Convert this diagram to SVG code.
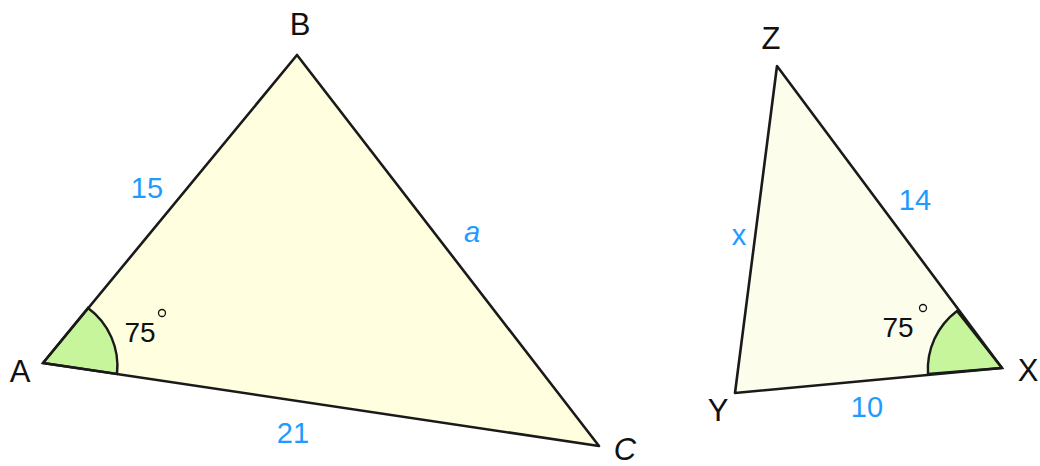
<svg xmlns="http://www.w3.org/2000/svg" width="1040" height="466" viewBox="0 0 1040 466">
<style>
.edge{stroke:#1a1a1a;stroke-width:2.6;stroke-linejoin:round;fill:none}
.lbl{font-family:"Liberation Sans",Arial,sans-serif;font-size:31px;fill:#111;text-anchor:middle;dominant-baseline:central}
.len{font-family:"Liberation Sans",Arial,sans-serif;font-size:29px;fill:#1e9bff;text-anchor:middle;dominant-baseline:central}
.ang{font-family:"Liberation Sans",Arial,sans-serif;font-size:28px;fill:#111;text-anchor:middle;dominant-baseline:central}
.wedge{fill:#c6f59c;stroke:#1a1a1a;stroke-width:2.4}
.deg{fill:none;stroke:#111;stroke-width:1.3}
</style>
<rect width="1040" height="466" fill="#ffffff"/>
<g id="triangle-ABC">
<polygon points="43,363 297,55 599,446" fill="#ffffdf"/>
<path class="wedge" d="M43,363 L88,308 A72,72 0 0 1 117,374 Z"/>
<polygon class="edge" points="43,363 297,55 599,446"/>
</g>
<g id="triangle-XYZ">
<polygon points="777,66 735,393 1002,368" fill="#fdfdeb"/>
<path class="wedge" d="M1002,368 L957,311 A73,73 0 0 0 928,374 Z"/>
<polygon class="edge" points="777,66 735,393 1002,368"/>
</g>
<g id="labels">
<text class="lbl" x="300" y="24">B</text>
<text class="lbl" x="20" y="371">A</text>
<text class="lbl" x="625" y="449" font-style="italic">C</text>
<text class="lbl" x="771" y="38">Z</text>
<text class="lbl" x="718" y="410">Y</text>
<text class="lbl" x="1028" y="370">X</text>
<text class="len" x="147" y="188">15</text>
<text class="len" x="472" y="232" font-style="italic">a</text>
<text class="len" x="293" y="433">21</text>
<text class="len" x="739" y="235">x</text>
<text class="len" x="915" y="200">14</text>
<text class="len" x="867" y="407">10</text>
<text class="ang" x="140" y="332">75</text>
<circle class="deg" cx="162" cy="313" r="3.5"/>
<text class="ang" x="898" y="327">75</text>
<circle class="deg" cx="923" cy="308" r="3.5"/>
</g>
</svg>
